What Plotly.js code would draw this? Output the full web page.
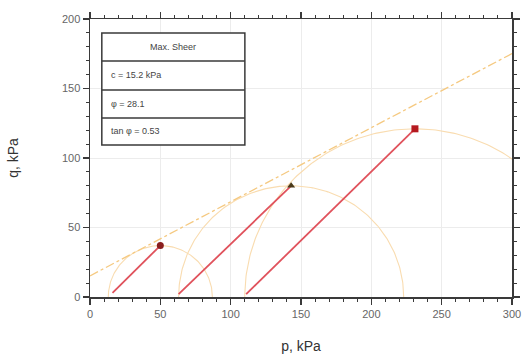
<!DOCTYPE html>
<html><head><meta charset="utf-8">
<script src="https://cdn.plot.ly/plotly-3.0.1.min.js"></script>
<style>html,body{margin:0;padding:0;background:#fff}#chart{width:527px;height:363px}</style>
</head><body><div id="chart"></div>
<script>
// Mohr circles (p = centre, q = radius)
const circleCentres = [50, 143, 231];
const circleRadii = [37, 80, 121];
// stress paths: start and end points
const pathStartP = [16, 63, 111];
const pathStartQ = [3, 2, 2];
const peakP = [50, 143, 231];
const peakQ = [37, 80, 121];
const peakSymbols = ['circle', 'triangle-up', 'square'];
const peakColors = ['#8a1e1e', '#4a3a1a', '#b5191f'];
// failure envelope
const cohesion = 15.2;
const tanPhi = 0.533;
const envelopeP = [0, 300];
// table text
const tableLines = ['Max. Sheer', 'c = 15.2 kPa', 'φ = 28.1', 'tan φ = 0.53'];

const traces = [];
circleCentres.forEach((c, i) => {
  const r = circleRadii[i];
  const xs = [], ys = [];
  for (let k = 0; k <= 180; k++) {
    const a = Math.PI * k / 180;
    xs.push(c + r * Math.cos(a));
    ys.push(r * Math.sin(a));
  }
  traces.push({x: xs, y: ys, mode: 'lines', line: {color: '#f9dcb0', width: 1.1}, hoverinfo: 'skip', showlegend: false});
});
traces.push({x: envelopeP, y: envelopeP.map(p => cohesion + tanPhi * p), mode: 'lines',
  line: {color: '#f5c980', width: 1.3, dash: 'dashdot'}, showlegend: false});
pathStartP.forEach((p, i) => {
  traces.push({x: [p, peakP[i]], y: [pathStartQ[i], peakQ[i]], mode: 'lines',
    line: {color: '#e0525c', width: 1.8}, showlegend: false});
});
peakP.forEach((p, i) => {
  traces.push({x: [p], y: [peakQ[i]], mode: 'markers',
    marker: {symbol: peakSymbols[i], size: 7, color: peakColors[i]}, showlegend: false});
});

const x0 = 0.028, x1 = 0.367;
const rowYs = [0.95, 0.849, 0.745, 0.644, 0.547];
const shapes = [{type: 'rect', xref: 'paper', yref: 'paper', x0: x0, x1: x1, y0: rowYs[4], y1: rowYs[0],
  line: {color: '#3a3a3a', width: 1.5}, fillcolor: 'rgba(255,255,255,1)', layer: 'above'}];
for (let i = 1; i < 4; i++) {
  shapes.push({type: 'line', xref: 'paper', yref: 'paper', x0: x0, x1: x1, y0: rowYs[i], y1: rowYs[i],
    line: {color: '#3a3a3a', width: 1.5}, layer: 'above'});
}
const annotations = tableLines.map((t, i) => ({
  xref: 'paper', yref: 'paper',
  x: i === 0 ? (x0 + x1) / 2 : x0 + 0.018,
  xanchor: i === 0 ? 'center' : 'left',
  y: (rowYs[i] + rowYs[i + 1]) / 2, yanchor: 'middle',
  text: t, showarrow: false, font: {family: 'Liberation Sans, Arial', size: 9, color: '#444'}
}));

const axisCommon = {
  showline: true, linecolor: '#3a3a3a', linewidth: 1.5, mirror: 'ticks',
  ticks: 'outside', ticklen: 6, tickwidth: 1.5, tickcolor: '#3a3a3a', dtick: 50,
  minor: {dtick: 10, ticks: 'outside', ticklen: 3, tickwidth: 1, tickcolor: '#3a3a3a', showgrid: false},
  showgrid: true, gridcolor: '#ececec', gridwidth: 1, zeroline: false,
  tickfont: {family: 'Liberation Sans, Arial', size: 11, color: '#666'}
};
const layout = {
  width: 527, height: 363,
  margin: {l: 90, r: 15, t: 19, b: 66},
  paper_bgcolor: '#fff', plot_bgcolor: '#fff',
  xaxis: Object.assign({}, axisCommon, {range: [0, 300],
    title: {text: 'p, kPa', font: {family: 'Liberation Sans, Arial', size: 14, color: '#333'}, standoff: 22}}),
  yaxis: Object.assign({}, axisCommon, {range: [0, 200],
    title: {text: 'q, kPa', font: {family: 'Liberation Sans, Arial', size: 14, color: '#333'}, standoff: 40}}),
  shapes: shapes, annotations: annotations
};
Plotly.newPlot('chart', traces, layout, {displayModeBar: false, staticPlot: true});
</script></body></html>
